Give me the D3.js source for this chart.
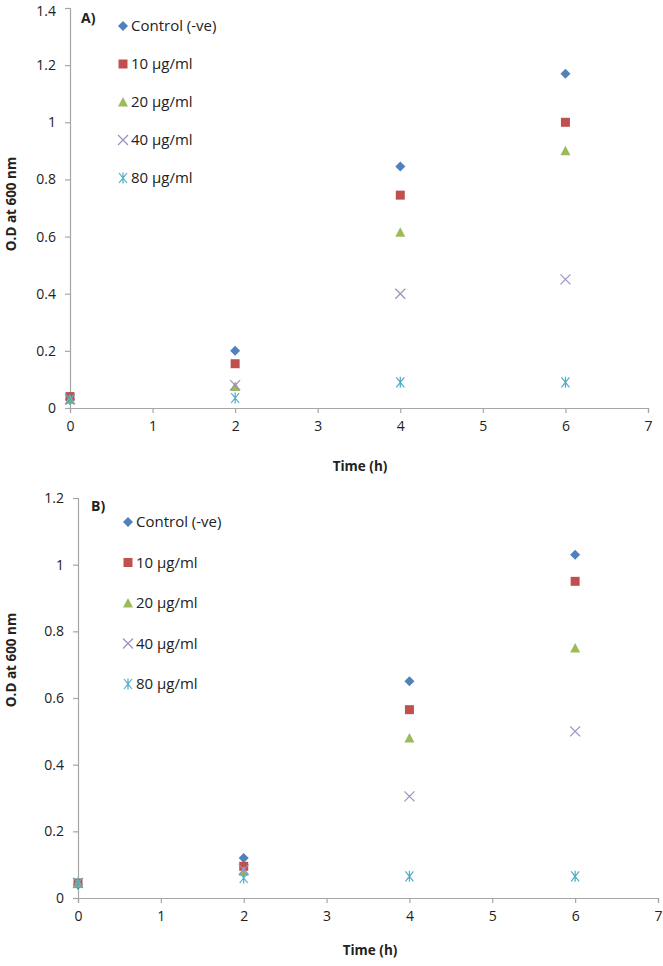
<!DOCTYPE html>
<html><head><meta charset="utf-8">
<script src="https://cdn.jsdelivr.net/npm/d3@7"></script>
<style>
body{margin:0;background:#fff;}
text{font-family:"Open Sans","Liberation Sans",Arial,sans-serif;}
</style></head>
<body><svg id="c" width="663" height="966"></svg>
<script>
const times = [0, 2, 4, 6];
const seriesNames = ["Control (-ve)", "10 \u00b5g/ml", "20 \u00b5g/ml", "40 \u00b5g/ml", "80 \u00b5g/ml"];
const colors = ["#4F81BD", "#C0504D", "#9BBB59", "#9D8FC0", "#4BACC6"];
const shapes = ["diamond", "square", "triangle", "x", "star"];

const A_control = [0.03, 0.20, 0.845, 1.17];
const A_10 = [0.04, 0.155, 0.745, 1.00];
const A_20 = [0.03, 0.075, 0.615, 0.90];
const A_40 = [0.03, 0.08, 0.40, 0.45];
const A_80 = [0.03, 0.035, 0.09, 0.09];

const B_control = [0.04, 0.12, 0.65, 1.03];
const B_10 = [0.045, 0.095, 0.565, 0.95];
const B_20 = [0.045, 0.08, 0.48, 0.75];
const B_40 = [0.045, 0.085, 0.305, 0.50];
const B_80 = [0.045, 0.06, 0.065, 0.065];

const xTicks = [0, 1, 2, 3, 4, 5, 6, 7];
const yTicksA = [0, 0.2, 0.4, 0.6, 0.8, 1, 1.2, 1.4];
const yTicksB = [0, 0.2, 0.4, 0.6, 0.8, 1, 1.2];

const svg = d3.select("#c");

function markerPath(shape) {
  switch (shape) {
    case "diamond": return "M0,-5L5,0L0,5L-5,0Z";
    case "square": return "M-4.5,-4.5H4.5V4.5H-4.5Z";
    case "triangle": return "M0,-5L5,4.5H-5Z";
    case "x": return "M-5,-5L5,5M5,-5L-5,5";
    case "star": return "M-4,-5L4,5M4,-5L-4,5M0,-5.5V5.5";
  }
}
function drawMarker(g, shape, color) {
  const p = g.append("path").attr("d", markerPath(shape));
  if (shape === "x" || shape === "star") p.attr("fill", "none").attr("stroke", color).attr("stroke-width", 1.2);
  else p.attr("fill", color);
}

function panel(cfg) {
  const x = d3.scaleLinear().domain([0, 7]).range([cfg.x0, cfg.x1]);
  const y = d3.scaleLinear().domain([0, cfg.ymax]).range([cfg.y0, cfg.y1]);
  const g = svg.append("g");
  const ax = g.append("g").attr("transform", `translate(0,${cfg.y0})`)
    .call(d3.axisBottom(x).tickValues(xTicks).tickSize(5).tickPadding(8).tickFormat(d3.format("d")));
  const ay = g.append("g").attr("transform", `translate(${cfg.x0},0)`)
    .call(d3.axisLeft(y).tickValues(cfg.yTicks).tickSize(5).tickPadding(9).tickFormat(d => d3.format("")(+d.toFixed(1))));
  [ax, ay].forEach(a => {
    a.selectAll("path,line").attr("stroke", "#A6A6A6").attr("stroke-width", 1.2);
    a.selectAll("text").attr("font-size", 14).attr("fill", "#222");
  });
  ay.selectAll(".tick text").filter(d => d === cfg.ymax && cfg.y1 < 12).attr("dy", "0.55em");
  g.append("text").attr("x", cfg.xtitleX).attr("y", cfg.xtitleY).attr("text-anchor", "middle")
    .attr("font-size", 13.5).attr("font-weight", "bold").attr("fill", "#222").text("Time (h)");
  g.append("text").attr("transform", `translate(${cfg.ytitleX},${cfg.ytitleY}) rotate(-90)`)
    .attr("text-anchor", "middle").attr("font-size", 13.5).attr("font-weight", "bold").attr("fill", "#222")
    .text("O.D at 600 nm");
  g.append("text").attr("x", cfg.labelX).attr("y", cfg.labelY).attr("font-size", 14)
    .attr("font-weight", "bold").attr("fill", "#222").text(cfg.label);
  cfg.series.forEach((vals, si) => {
    vals.forEach((v, i) => {
      const m = g.append("g").attr("transform", `translate(${x(times[i])},${y(v)})`);
      drawMarker(m, shapes[si], colors[si]);
    });
  });
  seriesNames.forEach((name, si) => {
    const ly = cfg.legY + si * cfg.legStep;
    const m = g.append("g").attr("transform", `translate(${cfg.legX},${ly})`);
    drawMarker(m, shapes[si], colors[si]);
    g.append("text").attr("x", cfg.legX + 8).attr("y", ly + 5).attr("font-size", 15)
      .attr("fill", "#222").text(name);
  });
}

panel({x0: 70, x1: 648, y0: 408, y1: 8, ymax: 1.4, yTicks: yTicksA,
  series: [A_control, A_10, A_20, A_40, A_80], label: "A)", labelX: 81, labelY: 23,
  legX: 123, legY: 26, legStep: 38, xtitleX: 360, xtitleY: 471, ytitleX: 16, ytitleY: 204});
panel({x0: 78, x1: 658, y0: 898, y1: 498, ymax: 1.2, yTicks: yTicksB,
  series: [B_control, B_10, B_20, B_40, B_80], label: "B)", labelX: 91, labelY: 511,
  legX: 128, legY: 522, legStep: 40.5, xtitleX: 370, xtitleY: 955, ytitleX: 16, ytitleY: 660});
</script></body></html>
